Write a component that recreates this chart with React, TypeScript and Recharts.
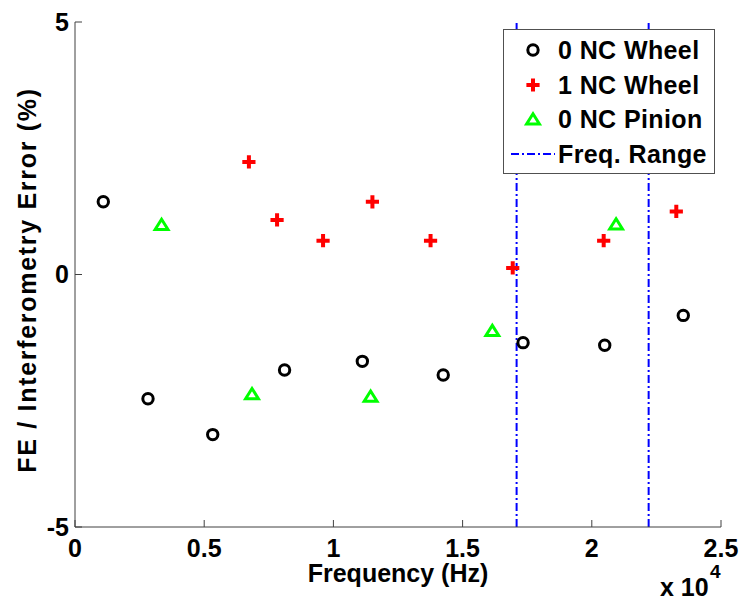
import React from 'react';
import { ScatterChart, Scatter, XAxis, YAxis, ReferenceLine, Legend } from 'recharts';

// frequencies in Hz, errors in %
const wheel0Freq = [1095, 2825, 5330, 8110, 11120, 14250, 17340, 20500, 23540];
const wheel0Err = [1.44, -2.46, -3.17, -1.89, -1.72, -1.99, -1.35, -1.4, -0.81];
const wheel1Freq = [6730, 7820, 9600, 11510, 13760, 16940, 20460, 23270];
const wheel1Err = [2.23, 1.08, 0.67, 1.44, 0.67, 0.13, 0.67, 1.25];
const pinion0Freq = [3350, 6850, 11440, 16150, 20940];
const pinion0Err = [0.99, -2.36, -2.41, -1.11, 1.0];
const freqRange = [17090, 22200];

const xTicks = [0, 5000, 10000, 15000, 20000, 25000];
const yTicks = [-5, 0, 5];
const legendLabels = ['0 NC Wheel', '1 NC Wheel', '0 NC Pinion', 'Freq. Range'];

const FONT = '"Liberation Sans", Arial, Helvetica, sans-serif';
const AXIS = '#404040';

const toPoints = (f: number[], e: number[]) => f.map((v, i) => ({ f: v, e: e[i] }));
const wheel0 = toPoints(wheel0Freq, wheel0Err);
const wheel1 = toPoints(wheel1Freq, wheel1Err);
const pinion0 = toPoints(pinion0Freq, pinion0Err);

const CircleMark = ({ cx, cy }: any) => (
  <circle cx={cx} cy={cy} r={5.2} fill="none" stroke="#000" strokeWidth={3} />
);

const PlusMark = ({ cx, cy }: any) => (
  <path
    d={`M${cx - 6.6},${cy}H${cx + 6.6}M${cx},${cy - 6.6}V${cy + 6.6}`}
    stroke="#ff0000"
    strokeWidth={4}
    fill="none"
  />
);

const TriMark = ({ cx, cy }: any) => (
  <path
    d={`M${cx},${cy - 5.2}L${cx + 6.4},${cy + 5}L${cx - 6.4},${cy + 5}Z`}
    stroke="#00ff00"
    strokeWidth={3}
    strokeLinejoin="miter"
    fill="none"
  />
);

const symbols = [
  <circle cx={22} cy={17} r={5.2} fill="none" stroke="#000" strokeWidth={3} />,
  <path d="M15.4,17H28.6M22,10.4V23.6" stroke="#ff0000" strokeWidth={4} fill="none" />,
  <path d="M22,11.8L28.4,22L15.6,22Z" stroke="#00ff00" strokeWidth={3} fill="none" />,
  <line x1={0} y1={17} x2={44} y2={17} stroke="#0000ff" strokeWidth={2} strokeDasharray="8 3 2 3" />,
];

const LegendBox = () => (
  <div
    style={{
      width: 210,
      height: 140,
      border: '1px solid #505050',
      background: '#fff',
      paddingTop: 3,
      boxSizing: 'content-box',
      fontFamily: FONT,
      fontWeight: 'bold',
      fontSize: 25,
      color: '#000',
    }}
  >
    {legendLabels.map((name, i) => (
      <div key={name} style={{ display: 'flex', alignItems: 'center', height: 34.5 }}>
        <svg width={44} height={34} style={{ marginLeft: 7, marginRight: 3, flex: 'none' }}>
          {symbols[i]}
        </svg>
        <span style={{ whiteSpace: 'nowrap', lineHeight: '34px', letterSpacing: 0.4 }}>{name}</span>
      </div>
    ))}
  </div>
);

const XTitle = () => (
  <g fontFamily={FONT} fontWeight="bold" fontSize={25} fill="#000">
    <text x={398} y={582} textAnchor="middle">
      Frequency (Hz)
    </text>
    <text x={660} y={596}>
      x 10
    </text>
    <text x={710} y={578} fontSize={19}>
      4
    </text>
  </g>
);

const YTitle = () => (
  <text
    x={36}
    y={280}
    transform="rotate(-90 36 280)"
    textAnchor="middle"
    fontFamily={FONT}
    fontWeight="bold"
    fontSize={25}
    letterSpacing={1.7}
    fill="#000"
  >
    FE / Interferometry Error (%)
  </text>
);

export default function App() {
  const tickStyle = { fontFamily: FONT, fontWeight: 'bold', fontSize: 25, fill: '#000' };
  return (
    <div style={{ position: 'absolute', left: 0, top: 0, background: '#fff' }}>
      <ScatterChart width={740} height={600} margin={{ top: 22, right: 19, bottom: 0, left: 0 }}>
        <XAxis
          type="number"
          dataKey="f"
          domain={[0, 25000]}
          ticks={xTicks}
          tickFormatter={(v: number) => String(v / 10000)}
          height={73}
          tickSize={-7}
          tickMargin={19}
          stroke={AXIS}
          tick={tickStyle}
          allowDataOverflow
          label={{ content: () => <XTitle /> }}
        />
        <YAxis
          type="number"
          dataKey="e"
          domain={[-5, 5]}
          ticks={yTicks}
          width={75}
          tickSize={-7}
          tickMargin={13}
          stroke={AXIS}
          tick={tickStyle}
          allowDataOverflow
          label={{ content: () => <YTitle /> }}
        />
        {freqRange.map((f) => (
          <ReferenceLine
            key={f}
            x={f}
            stroke="#0000ff"
            strokeWidth={2}
            strokeDasharray="8 3 2 3"
          />
        ))}
        <Scatter name={legendLabels[0]} data={wheel0} shape={CircleMark} isAnimationActive={false} />
        <Scatter name={legendLabels[1]} data={wheel1} shape={PlusMark} isAnimationActive={false} />
        <Scatter name={legendLabels[2]} data={pinion0} shape={TriMark} isAnimationActive={false} />
        <Legend
          layout="vertical"
          align="center"
          verticalAlign="middle"
          content={() => <LegendBox />}
          wrapperStyle={{ position: 'absolute', left: 503, top: 29, width: 212, height: 144 }}
        />
      </ScatterChart>
    </div>
  );
}
